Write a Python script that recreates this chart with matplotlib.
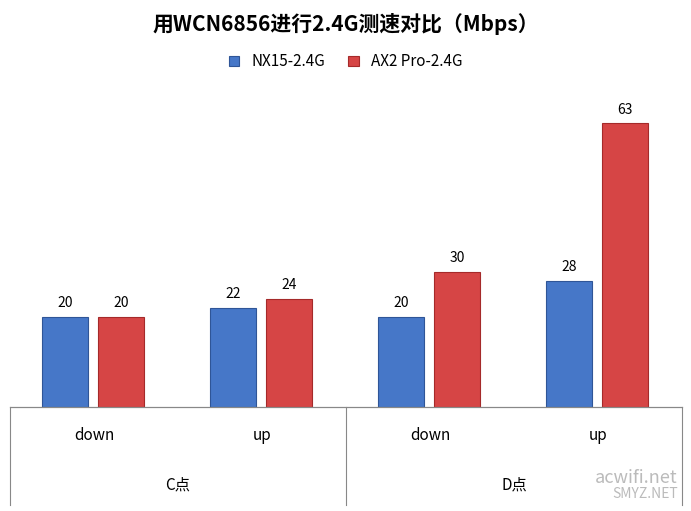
import matplotlib
matplotlib.use("Agg")
import matplotlib.pyplot as plt
import numpy as np

plt.rcParams['font.family'] = ['Noto Sans CJK SC', 'DejaVu Sans']

categories = ["down", "up", "down", "up"]
groups = ["C点", "D点"]
series_names = ["NX15-2.4G", "AX2 Pro-2.4G"]
nx15 = [20, 22, 20, 28]
ax2pro = [20, 24, 30, 63]

W, H = 691, 511
fig = plt.figure(figsize=(W/100, H/100), dpi=100)
ax = fig.add_axes([10/W, 1-407/H, 672/W, (407-92)/H])
x = np.arange(len(categories))
bw = 0.275
b1 = ax.bar(x - 0.335/1, nx15, bw, color="#4677c8", edgecolor="#2f5597", linewidth=0.8, label=series_names[0])
b2 = ax.bar(x + 0.0, ax2pro, bw, color="#d64545", edgecolor="#a52a2a", linewidth=0.8, label=series_names[1])
# shift to match positions: centers at 65/121 relative to 168 spacing
for r in b1:
    r.set_x(r.get_x() + 0.5 - 0.335 + (65-10)/168 - 0.5 + 0.335 - 0.5 + 0.5 - (65-10)/168 + (65-10)/168 - 0.5 + 0.0)
ax.set_xlim(-0.5, 3.5)
# recompute cleanly
for i, r in enumerate(b1):
    r.set_x(i - 0.5 + (65-10)/168 - bw/2)
for i, r in enumerate(b2):
    r.set_x(i - 0.5 + (121-10)/168 - bw/2)
for bars, vals in ((b1, nx15), (b2, ax2pro)):
    for r, v in zip(bars, vals):
        ax.text(r.get_x()+bw/2, v+1.5, str(v), ha="center", va="bottom", fontsize=10)
ax.set_ylim(0, 70)
for s in ["top", "right", "left"]:
    ax.spines[s].set_visible(False)
ax.spines["bottom"].set_color("#888888")
ax.set_yticks([]); ax.set_xticks([])

# category table below
def fy(py): return 1 - py/H
def fx(px): return px/W
for px in (10, 346, 682):
    fig.add_artist(plt.Line2D([fx(px), fx(px)], [fy(407), fy(505)], color="#888888", lw=0.8))
fig.add_artist(plt.Line2D([fx(10), fx(682)], [fy(407), fy(407)], color="#888888", lw=0.8))
for i, c in enumerate(categories):
    fig.text(fx(10 + 168*i + 84), fy(436), c, ha="center", va="center", fontsize=11)
for i, g in enumerate(groups):
    fig.text(fx(10 + 336*i + 168), fy(485), g, ha="center", va="center", fontsize=11)

fig.text(0.5, fy(24), "用WCN6856进行2.4G测速对比（Mbps）", ha="center", va="center", fontsize=15, fontweight="bold")
fig.legend(handles=[b1, b2], labels=series_names, loc="center", bbox_to_anchor=(0.5, fy(62)), ncol=2,
           frameon=False, fontsize=11, handlelength=0.7, handleheight=0.7, columnspacing=1.5)
fig.text(fx(678), fy(478), "acwifi.net", ha="right", va="center", fontsize=13, color="#bbbbbb")
fig.text(fx(678), fy(494), "SMYZ.NET", ha="right", va="center", fontsize=10, color="#bbbbbb")
fig.savefig("out.png", dpi=100)
